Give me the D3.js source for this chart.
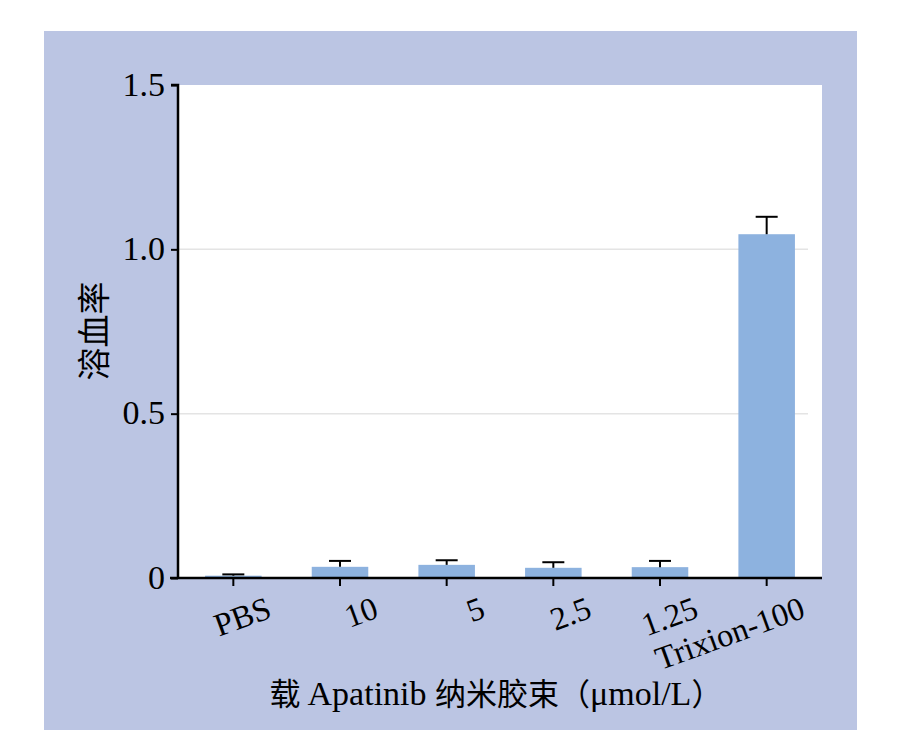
<!DOCTYPE html>
<html><head><meta charset="utf-8">
<script src="https://cdn.jsdelivr.net/npm/d3@7/dist/d3.min.js"></script>
<style>
html,body{margin:0;padding:0;background:#fff;}
svg{display:block;}
</style></head>
<body>
<script>
const categories = ["PBS","10","5","2.5","1.25","Trixion-100"];
const values = [0.007, 0.034, 0.040, 0.031, 0.033, 1.046];
const errors = [0.004, 0.018, 0.014, 0.017, 0.019, 0.053];
const yTicks = [0, 0.5, 1.0, 1.5];
const yTickLabels = ["0","0.5","1.0","1.5"];
const gridValues = [0.5, 1.0];
const yTitle = "溶血率";
const xTitle = "载 Apatinib 纳米胶束（μmol/L）";

(function(){
const W = 911, H = 754;
const svg = d3.select("body").append("svg").attr("width", W).attr("height", H);
const serif = "'Liberation Serif','DejaVu Serif',serif";
const cjk = "'Noto Sans CJK SC',sans-serif";

// outer panel
svg.append("rect").attr("x",44).attr("y",31).attr("width",813).attr("height",699).attr("fill","#bbc5e3");

const pL = 178, pR = 822, pT = 85, pB = 578;
svg.append("rect").attr("x",pL).attr("y",pT).attr("width",pR-pL).attr("height",pB-pT).attr("fill","#fff");

const y = d3.scaleLinear().domain([0,1.5]).range([pB, pT]);
const x = d3.scaleBand().domain(categories).range([180, 820]).paddingInner(0.47).paddingOuter(0.235);

// gridlines
svg.append("g").selectAll("line").data(gridValues).join("line")
  .attr("x1",pL).attr("x2",808).attr("y1",d=>y(d)).attr("y2",d=>y(d))
  .attr("stroke","#e4e4e4").attr("stroke-width",1.5);

// bars
svg.append("g").selectAll("rect").data(categories).join("rect")
  .attr("x",d=>x(d)).attr("width",x.bandwidth())
  .attr("y",(d,i)=>y(values[i])).attr("height",(d,i)=>y(0)-y(values[i]))
  .attr("fill","#8db2df");

// error bars
const eg = svg.append("g").attr("stroke","#000").attr("stroke-width",2);
categories.forEach((c,i)=>{
  const cx = x(c)+x.bandwidth()/2;
  eg.append("line").attr("x1",cx).attr("x2",cx).attr("y1",y(values[i])).attr("y2",y(values[i]+errors[i]));
  eg.append("line").attr("x1",cx-11).attr("x2",cx+11).attr("y1",y(values[i]+errors[i])).attr("y2",y(values[i]+errors[i]));
});

// y axis
const yAxis = d3.axisLeft(y).tickValues(yTicks).tickFormat((d,i)=>yTickLabels[i]).tickSize(7).tickPadding(6);
const gy = svg.append("g").attr("transform",`translate(${pL},0)`).call(yAxis);
gy.select(".domain").attr("stroke","#000").attr("stroke-width",2.5).attr("d",`M-7,${pT}H0V${pB}`);
gy.selectAll(".tick line").attr("stroke","#000").attr("stroke-width",2);
gy.selectAll(".tick text").attr("font-family",serif).attr("font-size",34).attr("fill","#000").attr("dy","0.3em");

// x axis
const xAxis = d3.axisBottom(x).tickSize(8).tickFormat("");
const gx = svg.append("g").attr("transform",`translate(0,${pB})`).call(xAxis);
gx.select(".domain").attr("stroke","#000").attr("stroke-width",2.5).attr("d",`M170,0H${pR}`);
gx.selectAll(".tick line").attr("stroke","#000").attr("stroke-width",2);

// x tick labels (rotated)
svg.append("g").selectAll("text").data(categories).join("text")
  .attr("transform",d=>`translate(${x(d)+x.bandwidth()/2+40},617) rotate(-20)`)
  .attr("text-anchor","end")
  .attr("font-family",serif).attr("font-size",32.5).attr("fill","#000")
  .text(d=>d);

// y title
svg.append("text").attr("transform","translate(106,331) rotate(-90)")
  .attr("text-anchor","middle").attr("font-family",cjk).attr("font-size",33).attr("fill","#000")
  .text(yTitle);

// x title
const xt = svg.append("text").attr("x",496).attr("y",705).attr("text-anchor","middle")
  .attr("font-size",31).attr("fill","#000");
xt.append("tspan").attr("font-family",cjk).text("载 ");
xt.append("tspan").attr("font-family",serif).attr("font-size",34).text("Apatinib ");
xt.append("tspan").attr("font-family",cjk).text("纳米胶束（");
xt.append("tspan").attr("font-family",serif).attr("font-size",34).text("μmol/L");
xt.append("tspan").attr("font-family",cjk).text("）");
})();
</script>
</body></html>
